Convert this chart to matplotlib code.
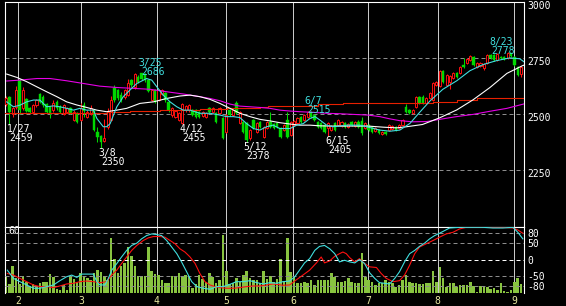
import matplotlib
matplotlib.use("Agg")
import matplotlib.pyplot as plt
import numpy as np
from matplotlib.transforms import blended_transform_factory, ScaledTranslation

# ---------------- data ----------------
opens = [2545, 2576, 2502, 2534, 2653, 2527, 2567, 2527, 2512, 2542,
         2590, 2579, 2545, 2534, 2519, 2557, 2534, 2502, 2512, 2527,
         2475, 2505, 2475, 2542, 2490, 2502, 2519, 2423, 2403, 2382,
         2445, 2475, 2616, 2609, 2586, 2579, 2586, 2653, 2620, 2667,
         2684, 2680, 2653, 2564, 2609, 2564, 2590, 2596, 2556, 2497,
         2490, 2475, 2460, 2519, 2519, 2519, 2519, 2510, 2492, 2488,
         2528, 2510, 2506, 2506, 2484, 2421, 2519, 2497, 2550, 2461,
         2466, 2461, 2394, 2475, 2421, 2466, 2399, 2439, 2466, 2457,
         2461, 2439, 2430, 2475, 2408, 2452, 2461, 2488, 2475, 2490,
         2510, 2497, 2466, 2461, 2452, 2439, 2430, 2461, 2452, 2448,
         2461, 2443, 2466, 2448, 2466, 2470, 2439, 2452, 2443, 2425,
         2430, 2412, 2421, 2430, 2435, 2443, 2439, 2452, 2533, 2519,
         2506, 2533, 2577, 2577, 2550, 2573, 2564, 2631, 2626, 2694,
         2631, 2644, 2662, 2684, 2684, 2720, 2729, 2742, 2756, 2711,
         2715, 2707, 2729, 2765, 2765, 2742, 2758, 2756, 2750, 2773,
         2756, 2711, 2680]
highs = [2582, 2582, 2534, 2625, 2660, 2620, 2575, 2532, 2548, 2570,
         2595, 2585, 2550, 2538, 2564, 2562, 2540, 2548, 2534, 2532,
         2519, 2510, 2550, 2556, 2520, 2540, 2525, 2442, 2410, 2480,
         2527, 2580, 2630, 2615, 2600, 2615, 2660, 2660, 2683, 2675,
         2686, 2684, 2660, 2615, 2612, 2612, 2612, 2600, 2560, 2535,
         2520, 2510, 2550, 2540, 2548, 2523, 2522, 2514, 2515, 2512,
         2532, 2532, 2512, 2532, 2490, 2502, 2524, 2523, 2560, 2515,
         2472, 2466, 2435, 2480, 2466, 2472, 2448, 2470, 2510, 2462,
         2466, 2444, 2457, 2510, 2470, 2475, 2490, 2494, 2502, 2515,
         2514, 2500, 2470, 2466, 2456, 2466, 2453, 2466, 2480, 2470,
         2466, 2462, 2470, 2470, 2475, 2490, 2466, 2457, 2448, 2444,
         2434, 2426, 2425, 2457, 2453, 2447, 2457, 2480, 2545, 2523,
         2524, 2582, 2582, 2585, 2578, 2600, 2645, 2650, 2698, 2698,
         2680, 2676, 2690, 2688, 2716, 2750, 2750, 2767, 2760, 2734,
         2735, 2728, 2770, 2770, 2768, 2773, 2762, 2760, 2778, 2776,
         2760, 2716, 2715]
lows = [2538, 2459, 2490, 2525, 2500, 2520, 2510, 2505, 2500, 2535,
        2550, 2535, 2505, 2482, 2512, 2520, 2505, 2497, 2505, 2500,
        2470, 2460, 2470, 2490, 2485, 2497, 2425, 2378, 2350, 2378,
        2437, 2470, 2556, 2565, 2555, 2570, 2580, 2620, 2615, 2640,
        2655, 2645, 2600, 2560, 2550, 2560, 2585, 2555, 2512, 2490,
        2485, 2470, 2455, 2512, 2512, 2492, 2484, 2482, 2488, 2482,
        2506, 2505, 2460, 2500, 2390, 2415, 2492, 2492, 2500, 2455,
        2415, 2378, 2388, 2434, 2416, 2438, 2394, 2434, 2438, 2434,
        2438, 2394, 2425, 2394, 2403, 2447, 2456, 2461, 2470, 2485,
        2483, 2470, 2438, 2434, 2416, 2405, 2425, 2425, 2447, 2443,
        2438, 2440, 2447, 2443, 2438, 2410, 2434, 2425, 2416, 2420,
        2412, 2408, 2410, 2425, 2430, 2425, 2434, 2447, 2505, 2500,
        2500, 2528, 2545, 2545, 2545, 2568, 2560, 2626, 2620, 2640,
        2626, 2615, 2657, 2662, 2680, 2705, 2724, 2738, 2715, 2706,
        2710, 2700, 2724, 2746, 2738, 2738, 2745, 2742, 2746, 2755,
        2715, 2670, 2665]
closes = [2575, 2512, 2527, 2609, 2519, 2609, 2516, 2512, 2542, 2564,
          2557, 2542, 2512, 2507, 2549, 2527, 2512, 2542, 2527, 2508,
          2512, 2467, 2527, 2516, 2512, 2527, 2430, 2400, 2375, 2393,
          2512, 2564, 2564, 2571, 2564, 2609, 2638, 2631, 2680, 2645,
          2660, 2653, 2605, 2609, 2556, 2609, 2609, 2564, 2519, 2527,
          2515, 2505, 2545, 2537, 2542, 2497, 2488, 2488, 2510, 2506,
          2510, 2528, 2466, 2528, 2394, 2497, 2497, 2519, 2506, 2510,
          2421, 2385, 2430, 2439, 2461, 2443, 2443, 2466, 2443, 2439,
          2443, 2399, 2452, 2399, 2466, 2470, 2484, 2466, 2497, 2510,
          2488, 2475, 2443, 2439, 2421, 2461, 2448, 2430, 2475, 2466,
          2443, 2458, 2452, 2466, 2443, 2415, 2461, 2430, 2421, 2439,
          2417, 2421, 2413, 2452, 2448, 2430, 2452, 2475, 2510, 2506,
          2519, 2577, 2550, 2550, 2573, 2595, 2640, 2644, 2694, 2644,
          2675, 2671, 2684, 2667, 2711, 2710, 2746, 2760, 2720, 2729,
          2728, 2724, 2765, 2751, 2742, 2769, 2750, 2747, 2773, 2760,
          2720, 2675, 2711]
volume = [17, 9, 27, 15, 9, 17, 11, 7, 9, 7,
          10, 11, 11, 19, 16, 4, 3, 8, 3, 17,
          14, 11, 20, 16, 15, 13, 20, 23, 21, 17,
          13, 55, 34, 20, 27, 30, 46, 37, 27, 17,
          17, 17, 46, 22, 19, 18, 13, 10, 10, 17,
          17, 20, 16, 18, 16, 5, 9, 18, 14, 11,
          20, 16, 10, 13, 58, 22, 9, 10, 15, 11,
          18, 22, 15, 13, 13, 10, 22, 14, 17, 11,
          14, 34, 11, 55, 21, 16, 10, 10, 11, 10,
          13, 8, 13, 13, 13, 13, 20, 16, 11, 11,
          12, 15, 11, 10, 10, 40, 16, 13, 11, 8,
          10, 10, 13, 11, 10, 6, 8, 13, 18, 11,
          10, 10, 9, 9, 10, 10, 22, 11, 26, 15,
          6, 10, 10, 6, 8, 8, 8, 11, 7, 1.3,
          7, 7, 6, 4, 5, 3, 10, 2.3, 1.3, 3,
          11, 15, 9]

month_pos = [3.5, 22.1, 44.5, 64.9, 84.7, 106.8, 127.4, 149.9]
month_labels = ["2", "3", "4", "5", "6", "7", "8", "9"]
price_ticks = [2250, 2500, 2750, 3000]
osc_ticks = [80, 50, 0, -50, -80]
volume_label = 60

ma_short_x = [0.2, 2.2, 4.1, 6.1, 8.1, 10.0, 12.0, 14.0, 15.9, 17.9, 19.9, 21.8, 23.8, 25.8,
              26.8, 28.7, 29.7, 30.7, 32.7, 34.6, 36.6, 38.6, 41.5, 43.0, 44.5, 46.4, 48.4,
              50.4, 52.3, 54.3, 57.2, 60.2, 63.1, 65.1, 67.1, 69.0, 71.0, 73.0, 74.9, 76.9,
              78.8, 80.8, 83.8, 85.8, 87.7, 89.7, 91.2, 92.6, 94.6, 96.5, 98.5, 100.5, 102.4,
              104.4, 106.4, 110.3, 113.3, 116.2, 119.2, 122.1, 125.1, 128.9, 133.0, 136.9,
              140.7, 144.8, 148.7, 151.6, 152.8]
ma_short_y = [2556, 2534, 2541, 2556, 2564, 2564, 2534, 2538, 2534, 2527, 2519, 2527, 2519, 2519,
              2482, 2445, 2445, 2458, 2534, 2579, 2609, 2638, 2660, 2653, 2623, 2586, 2556,
              2534, 2519, 2519, 2505, 2505, 2497, 2490, 2490, 2486, 2459, 2437, 2430, 2445,
              2452, 2437, 2437, 2452, 2459, 2482, 2490, 2475, 2452, 2445, 2448, 2452, 2452,
              2452, 2445, 2430, 2425, 2430, 2460, 2510, 2560, 2612, 2650, 2695,
              2722, 2740, 2752, 2748, 2735]

ma_mid_x = [0.2, 3.2, 6.1, 9.1, 12.0, 15.0, 17.9, 20.9, 23.8, 26.8, 29.7, 32.7, 35.6, 39.5,
            43.5, 47.4, 51.3, 54.3, 57.2, 60.2, 63.1, 66.1, 69.0, 72.0, 74.9, 77.9, 80.8,
            83.8, 86.7, 89.7, 92.6, 95.6, 101.5, 106.8, 111.3, 115.3, 118.2, 122.9, 128.0,
            133.0, 137.8, 142.8, 147.8, 152.5, 152.9]
ma_mid_y = [2680, 2665, 2646, 2623, 2601, 2579, 2556, 2542, 2531, 2519, 2512, 2519, 2527, 2549,
            2556, 2571, 2582, 2586, 2579, 2567, 2549, 2527, 2505, 2490, 2478, 2471, 2463,
            2457, 2452, 2452, 2449, 2448, 2448, 2448, 2443, 2440, 2445, 2455, 2485,
            2520, 2565, 2620, 2683, 2718, 2720]

ma_long_x = [0.2, 4.1, 9.1, 13.0, 17.9, 22.8, 27.7, 32.7, 37.6, 42.5, 47.4, 52.3, 54.3, 57.2,
             60.2, 63.1, 66.1, 69.0, 72.0, 74.9, 77.9, 80.8, 83.8, 86.7, 90.7, 94.6, 98.5,
             102.5, 106.8, 110.3, 113.3, 116.2, 120.1, 124.1, 128.0, 132.9, 137.8, 142.8,
             147.8, 152.9]
ma_long_y = [2649, 2653, 2660, 2660, 2650, 2638, 2626, 2620, 2616, 2612, 2601, 2591, 2586, 2579,
             2571, 2561, 2546, 2537, 2534, 2531, 2527, 2519, 2515, 2512, 2509, 2505, 2503,
             2500, 2497, 2490, 2480, 2472, 2467, 2468, 2478, 2490, 2500, 2514,
             2527, 2547]

ma_week_x = [-0.44, 29.8, 36.6, 45.4, 57.2, 65.2, 74.9, 77.3, 92.0, 99.4, 120.1, 126.0, 133.0,
             138.9, 152.9]
ma_week_y = [2508, 2510, 2514, 2518, 2523, 2530, 2533, 2537, 2546, 2549, 2553, 2557, 2566,
             2571, 2571]

osc_a_x = [0.4, 2.2, 4.1, 6.1, 8.1, 10.0, 12.0, 14.0, 15.9, 17.9, 19.4, 20.9, 22.3, 23.8, 25.8,
           26.8, 27.7, 29.2, 30.2, 31.2, 32.7, 34.1, 35.6, 37.1, 38.6, 40.0, 41.5, 43.0,
           44.5, 45.9, 47.4, 48.9, 50.4, 51.8, 53.3, 54.8, 56.3, 58.2, 60.2, 62.2, 64.1,
           66.1, 68.0, 70.0, 72.0, 74.0, 75.9, 77.9, 79.9, 81.7, 83.7, 85.2, 86.6, 88.1,
           89.6, 91.1, 92.5, 94.0, 95.5, 97.0, 98.4, 99.9, 101.4, 102.9, 104.3, 105.8,
           107.3, 108.8, 110.2, 111.7, 113.2, 114.7, 116.1, 117.6, 119.1, 120.6, 122.0,
           123.5, 125.0, 126.5, 127.9, 129.4, 130.9, 133.8, 136.8, 140.7, 143.7, 146.6,
           149.6, 151.0, 152.5]
osc_a_y = [-32, -57, -67, -77, -87, -87, -82, -77, -64, -52, -47, -54, -44, -44, -44,
           -67, -77, -77, -57, -32, -12, 8, 28, 43, 50, 63, 73, 78,
           76, 73, 58, 38, 18, -7, -37, -67, -82, -87, -90, -82, -82,
           -75, -67, -67, -64, -70, -74, -70, -72, -67, -65, -52, -32, -10,
           3, 28, 40, 43, 33, 18, -7, -2, -7, -10, 0, -12,
           -40, -57, -70, -72, -74, -57, -37, -7, 18, 28, 40,
           50, 63, 73, 80, 88, 96, 98, 98, 98, 96, 96,
           98, 83, 63]

osc_b_x = [0.4, 2.2, 4.1, 6.1, 8.1, 10.0, 12.0, 14.0, 15.9, 17.9, 19.9, 21.8, 23.8, 25.8, 27.7,
           29.7, 31.2, 32.7, 34.1, 35.6, 37.1, 38.6, 40.5, 42.0, 43.5, 45.4, 46.9, 48.4,
           49.9, 51.3, 52.8, 54.3, 55.8, 57.2, 58.7, 60.2, 61.7, 63.1, 65.1, 67.1, 69.0,
           71.0, 72.9, 74.9, 76.9, 78.8, 80.5, 81.7, 83.7, 85.6, 87.6, 89.6, 91.6, 93.0,
           94.0, 95.5, 97.0, 98.4, 99.4, 100.4, 101.4, 102.9, 104.3, 105.8, 107.3, 109.3,
           110.7, 112.2, 114.2, 116.1, 117.6, 119.1, 120.6, 122.0, 124.0, 126.0, 127.9,
           129.9, 131.9, 133.8, 135.8, 140.7, 146.6, 149.6, 151.0, 152.5]
osc_b_y = [-42, -47, -57, -67, -77, -82, -82, -85, -80, -74, -72, -67, -65, -67, -70,
           -67, -47, -32, -12, 8, 28, 43, 58, 66, 70, 70, 68, 58,
           48, 33, 23, 8, -12, -42, -67, -77, -82, -85, -87, -87, -85,
           -82, -80, -80, -77, -74, -76, -78, -77, -62, -47, -32, -10, 8,
           -10, -4, 10, 18, 23, 18, 6, -7, 3, -12, -22, -24,
           -42, -57, -67, -64, -47, -17, 18, 38, 48, 58, 68,
           78, 83, 93, 98, 98, 98, 96, 90, 80]

ann_dates = ["1/27", "3/8", "3/25", "4/12", "5/12", "6/7", "6/15", "8/23"]
ann_index = [1, 28, 40, 52, 71, 89, 95, 148]
ann_kind = ["low", "low", "high", "low", "low", "high", "low", "high_r"]

# ---------------- style ----------------
RED = "#FF1010"
GREEN = "#00D800"
CYAN = "#40E0E0"
MAGENTA = "#E800E8"
WEEKRED = "#E82000"
VOLC = "#88C440"
GRIDC = "#8C8C8C"
VLINE = "#C8C8C8"
MONTHC = "#E8E8A0"
PX = 0.72  # one pixel in points at dpi 100

plt.rcParams["font.family"] = ["DejaVu Sans Mono", "DejaVu Sans"]

W, H, DPI = 566, 306, 100
fig = plt.figure(figsize=(W / DPI, H / DPI), dpi=DPI, facecolor="black")
L, R = 4.5, 524.2
T, M, B = 2.3, 226.5, 293.0
ax = fig.add_axes([L / W, 1 - M / H, (R - L) / W, (M - T) / H])
axv = fig.add_axes([L / W, 1 - B / H, (R - L) / W, (B - M) / H])
axo = axv.twinx()

o = np.array(opens, float)
h = np.array(highs, float)
l = np.array(lows, float)
c = np.array(closes, float)
idx = np.arange(len(o))
up = c >= o

for a in (ax, axv):
    a.set_facecolor("black")
    a.set_xlim(-0.44, 152.9)
axo.set_xlim(-0.44, 152.9)
ax.set_ylim(2000, 3000)
axv.set_ylim(0, 66.5)
axo.set_ylim(-101.4, 100.5)

# month separators
for p in month_pos:
    ax.axvline(p, color=VLINE, lw=PX, zorder=1)
    axv.axvline(p, color=VLINE, lw=PX, zorder=1)
# price grid
for t in price_ticks[:-1]:
    ax.axhline(t, color=GRIDC, lw=PX, dashes=(4, 3), zorder=1)

# candles
wick_colors = [RED if u else GREEN for u in up]
ax.vlines(idx, l, h, colors=wick_colors, lw=PX * 1.05, zorder=3)
ax.bar(idx[up], np.maximum(c - o, 1.5)[up], bottom=o[up], width=0.62,
       facecolor="black", edgecolor=RED, lw=PX * 0.95, zorder=4)
ax.bar(idx[~up], np.maximum(o - c, 1.5)[~up], bottom=c[~up], width=0.72,
       facecolor=GREEN, edgecolor=GREEN, lw=0.3, zorder=4)

# moving averages
ax.plot(ma_week_x, ma_week_y, color=WEEKRED, lw=PX * 1.1, drawstyle="steps-post", zorder=5)
ax.plot(ma_long_x, ma_long_y, color=MAGENTA, lw=PX * 1.1, zorder=5)
ax.plot(ma_mid_x, ma_mid_y, color="white", lw=PX * 1.1, zorder=5)
ax.plot(ma_short_x, ma_short_y, color=CYAN, lw=PX * 1.1, zorder=6)

# annotations
for d, i, k in zip(ann_dates, ann_index, ann_kind):
    if k == "low":
        val = lows[i]
        col = "white"
        ax.annotate(d, (i, val), xytext=(-3, -8), textcoords="offset pixels",
                    ha="left", va="baseline", color=col, fontsize=7, zorder=8)
        ax.annotate(str(val), (i, val), xytext=(0, -17), textcoords="offset pixels",
                    ha="left", va="baseline", color=col, fontsize=7, zorder=8)
    else:
        val = highs[i]
        col = CYAN
        if k == "high":
            ha, dx1, dx2 = "left", -3, 0
        else:
            ha, dx1, dx2 = "right", 5, 7
        ax.annotate(d, (i, val), xytext=(dx1, 7), textcoords="offset pixels",
                    ha=ha, va="baseline", color=col, fontsize=7, zorder=8)
        ax.annotate(str(val), (i, val), xytext=(dx2, -2), textcoords="offset pixels",
                    ha=ha, va="baseline", color=col, fontsize=7, zorder=8)

# axes decorations - main
ax.set_xticks([])
ax.yaxis.tick_right()
ax.set_yticks(price_ticks)
ax.set_yticklabels([str(t) for t in price_ticks])
ax.tick_params(axis="y", colors="white", length=0, pad=2.2, labelsize=7)
shift = ScaledTranslation(0, -2.2 / DPI, fig.dpi_scale_trans)
for lab in ax.get_yticklabels():
    lab.set_transform(lab.get_transform() + shift)
for s in ax.spines.values():
    s.set_color("white")
    s.set_linewidth(PX * 1.1)

# lower panel: volume
axv.bar(idx, volume, width=0.75, color=VOLC, lw=0, zorder=2)
axv.set_yticks([])
axv.set_xticks(month_pos)
axv.set_xticklabels(month_labels)
axv.tick_params(axis="x", colors=MONTHC, length=0, pad=2.0, labelsize=7)
axv.annotate(str(volume_label), (0, volume_label), xytext=(3.5, 1.5), textcoords="offset pixels",
             xycoords=blended_transform_factory(axv.transAxes, axv.transData),
             ha="left", va="center", color="white", fontsize=7, zorder=8)
for s in axv.spines.values():
    s.set_color("white")
    s.set_linewidth(PX * 1.1)
axv.spines["bottom"].set_visible(False)

# lower panel: oscillator
for t in osc_ticks:
    axo.axhline(t, color="white" if t == 0 else GRIDC, lw=PX, dashes=(4, 3), zorder=1)
axo.plot(osc_b_x, osc_b_y, color=RED, lw=PX * 1.1, zorder=4)
axo.plot(osc_a_x, osc_a_y, color=CYAN, lw=PX * 1.1, zorder=5)
axo.set_yticks(osc_ticks)
axo.set_yticklabels([str(t) for t in osc_ticks])
axo.tick_params(axis="y", colors="white", length=0, pad=2.2, labelsize=7)
for s in axo.spines.values():
    s.set_visible(False)

fig.savefig("out.png", dpi=DPI, facecolor="black")
